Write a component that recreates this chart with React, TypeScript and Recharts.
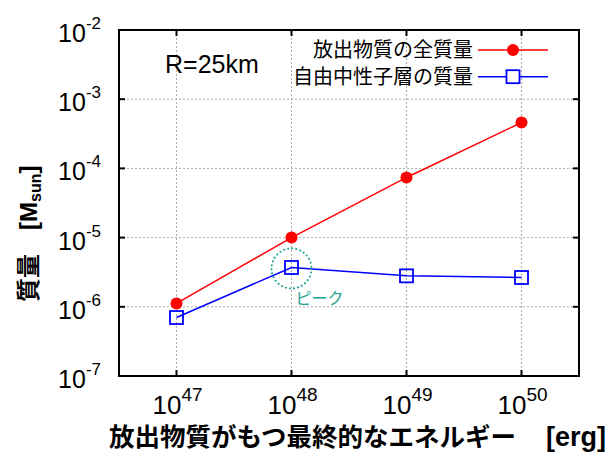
import React from "react"
import { LineChart, Line, XAxis, YAxis, CartesianGrid, Legend, ReferenceArea, ReferenceDot } from "recharts"

// energy released [erg] and masses [Msun]
const energies = [1e47, 1e48, 1e49, 1e50]
const totalMass = [1.12e-6, 1.0e-5, 7.4e-5, 4.6e-4]
const neutronMass = [7.0e-7, 3.7e-6, 2.8e-6, 2.65e-6]

const xTicks = [1e47, 1e48, 1e49, 1e50]
const yTicks = [1e-7, 1e-6, 1e-5, 1e-4, 1e-3, 1e-2]
const xDomain = [10 ** 46.5, 10 ** 50.5]
const yDomain = [1e-7, 1e-2]

const seriesNames = { total: "放出物質の全質量", neutron: "自由中性子層の質量" }
const peakLabel = "ピーク"

const data = energies.map((e, i) => ({ energy: e, total: totalMass[i], neutron: neutronMass[i] }))

const W = 614
const H = 458
const PLOT = { left: 119, top: 30, right: 579, bottom: 376 }
const FONT = '"Liberation Sans", Arial, "Noto Sans CJK JP", sans-serif'
const RED = "#ff0000"
const BLUE = "#0000ff"
const TEAL = "#1fa593"

function XTick({ x, y, payload }: any) {
  const exp = Math.round(Math.log10(payload.value))
  return (
    <g>
      <line x1={x} x2={x} y1={PLOT.bottom} y2={PLOT.bottom - 6} stroke="#000" strokeWidth={2} />
      <line x1={x} x2={x} y1={PLOT.top} y2={PLOT.top + 6} stroke="#000" strokeWidth={2} />
      <text x={x + 1} y={y + 38} textAnchor="middle" fontFamily={FONT} fontSize={26} fill="#000">
        <tspan>10</tspan>
        <tspan dy={-13} fontSize={19}>{exp}</tspan>
      </text>
    </g>
  )
}

function YTick({ x, y, payload }: any) {
  const exp = Math.round(Math.log10(payload.value))
  return (
    <g>
      <line x1={PLOT.left} x2={PLOT.left + 6} y1={y} y2={y} stroke="#000" strokeWidth={2} />
      <line x1={PLOT.right} x2={PLOT.right - 6} y1={y} y2={y} stroke="#000" strokeWidth={2} />
      <text x={x - 18} y={y + 12} textAnchor="end" fontFamily={FONT} fontSize={25} fill="#000">
        <tspan>10</tspan>
        <tspan dy={-13} fontSize={17}>{exp}</tspan>
      </text>
    </g>
  )
}

function SquareDot({ cx, cy, index }: any) {
  return <rect key={index} x={cx - 6.5} y={cy - 6.5} width={13} height={13} fill="none" stroke={BLUE} strokeWidth={1.8} />
}

function PeakMark({ cx, cy }: any) {
  return (
    <g>
      <circle cx={cx} cy={cy + 1} r={20} fill="none" stroke={TEAL} strokeWidth={2} strokeDasharray="0.1 4" strokeLinecap="round" />
      <text x={cx + 4} y={cy + 37} fontFamily={FONT} fontSize={16} fill={TEAL}>{peakLabel}</text>
    </g>
  )
}

function LegendBox({ payload }: any) {
  const items = payload || []
  return (
    <svg width={280} height={56}>
      {items.map((it: any, i: number) => {
        const cy = 14 + i * 26.7
        const isTotal = it.dataKey === "total"
        return (
          <g key={it.dataKey}>
            <text x={193} y={cy + 7} textAnchor="end" fontFamily={FONT} fontSize={20} fill="#000">{it.value}</text>
            <line x1={198} x2={268} y1={cy} y2={cy} stroke={it.color} strokeWidth={1.5} />
            {isTotal ? (
              <circle cx={233} cy={cy} r={6} fill={it.color} />
            ) : (
              <rect x={226.5} y={cy - 6.5} width={13} height={13} fill="#fff" stroke={it.color} strokeWidth={1.8} />
            )}
          </g>
        )
      })}
    </svg>
  )
}

export default function App() {
  return (
    <div style={{ position: "absolute", left: 0, top: 0, width: W, height: H, background: "#fff" }}>
      <LineChart width={W} height={H} data={data} margin={{ top: 30, right: 35, bottom: 42, left: 59 }}>
        <CartesianGrid stroke="#aaa" strokeDasharray="2 2" />
        <XAxis
          dataKey="energy"
          type="number"
          scale="log"
          domain={xDomain}
          ticks={xTicks}
          interval={0}
          allowDataOverflow
          height={40}
          tickSize={0}
          tickMargin={0}
          axisLine={false}
          tick={<XTick />}
        />
        <YAxis
          type="number"
          scale="log"
          domain={yDomain}
          ticks={yTicks}
          interval={0}
          allowDataOverflow
          width={60}
          tickSize={0}
          tickMargin={0}
          axisLine={false}
          tick={<YTick />}
        />
        <ReferenceArea
          x1={xDomain[0]}
          x2={xDomain[1]}
          y1={yDomain[0]}
          y2={yDomain[1]}
          fill="none"
          fillOpacity={0}
          stroke="#000"
          strokeWidth={2}
          ifOverflow="visible"
        />
        <Line
          dataKey="total"
          name={seriesNames.total}
          stroke={RED}
          strokeWidth={1.5}
          dot={{ r: 6, fill: RED, stroke: "none" }}
          isAnimationActive={false}
        />
        <Line
          dataKey="neutron"
          name={seriesNames.neutron}
          stroke={BLUE}
          strokeWidth={1.5}
          dot={<SquareDot />}
          isAnimationActive={false}
        />
        <ReferenceDot x={energies[1]} y={neutronMass[1]} r={20} shape={<PeakMark />} ifOverflow="visible" />
        <Legend
          layout="vertical"
          align="center"
          verticalAlign="middle"
          content={<LegendBox />}
          wrapperStyle={{ left: 280, top: 36, width: 280, height: 56 }}
        />
      </LineChart>
      <svg width={W} height={H} style={{ position: "absolute", left: 0, top: 0, pointerEvents: "none" }}>
        <text x={165} y={73} fontFamily={FONT} fontSize={25} fill="#000">R=25km</text>
        <text x={109} y={446} fontFamily={FONT} fontSize={25.5} fontWeight="bold" fill="#000">
          <tspan>放出物質がもつ最終的なエネルギー</tspan>
          <tspan x={546} fontSize={27}>[erg]</tspan>
        </text>
        <text transform="translate(37,302) rotate(-90)" fontFamily={FONT} fontSize={24} fontWeight="bold" fill="#000">
          <tspan>質量　[M</tspan>
          <tspan fontSize={16} dy={4}>sun</tspan>
          <tspan dy={-4}>]</tspan>
        </text>
      </svg>
    </div>
  )
}
